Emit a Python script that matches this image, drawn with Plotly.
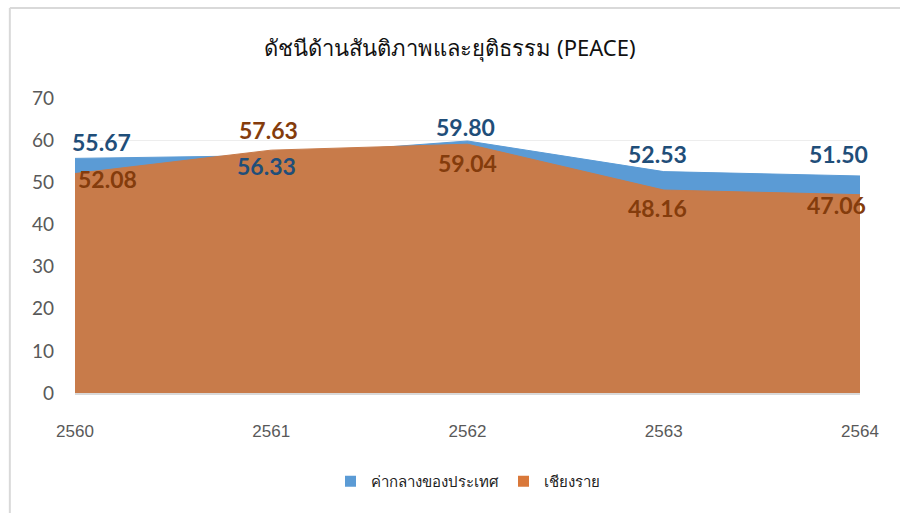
import plotly.graph_objects as go

# data
years = [2560, 2561, 2562, 2563, 2564]
national = [55.67, 56.33, 59.80, 52.53, 51.50]
chiangrai = [52.08, 57.63, 59.04, 48.16, 47.06]
series_names = ["ค่ากลางของประเทศ", "เชียงราย"]
title_text = "ดัชนีด้านสันติภาพและยุติธรรม (PEACE)"

# label offsets (px) so labels sit like the original chart
nat_shift = [(26, 16), (-5, -10), (-2, 14), (-6, 18), (-22, 22)]
cr_shift = [(32, -5), (-3, 20), (0, -19), (-6, -18), (-24, -10)]

blue_fill = "#5B9BD5"
orange_fill = "#C87B4A"
blue_text = "#1F4E79"
orange_text = "#843C0C"

fig = go.Figure()

# Area traces (blue behind, orange overlaps on top)
fig.add_trace(go.Scatter(x=years, y=national, mode="lines", fill="tozeroy",
                         line=dict(color=blue_fill, width=1),
                         fillcolor=blue_fill, showlegend=False, hoverinfo="skip"))
fig.add_trace(go.Scatter(x=years, y=chiangrai, mode="lines", fill="tozeroy",
                         line=dict(color=orange_fill, width=1),
                         fillcolor=orange_fill, showlegend=False, hoverinfo="skip"))

# Legend entries as squares
for name, col in zip(series_names, [blue_fill, "#D9783A"]):
    fig.add_trace(go.Scatter(x=[None], y=[None], mode="markers", name=name,
                             marker=dict(symbol="square", size=11, color=col)))

# Data labels
label_font = "Lato, 'Open Sans', sans-serif"
for vals, shifts, col in [(national, nat_shift, blue_text), (chiangrai, cr_shift, orange_text)]:
    for x, v, (dx, dy) in zip(years, vals, shifts):
        fig.add_annotation(x=x, y=v, text=f"<b>{v:.2f}</b>", showarrow=False,
                           xshift=dx, yshift=dy,
                           font=dict(size=23, color=col, family=label_font))

fig.update_layout(
    width=900, height=513,
    paper_bgcolor="white", plot_bgcolor="white",
    margin=dict(l=75, r=40, t=98, b=120),
    title=dict(text=title_text, x=0.5, xanchor="center", y=0.905, yanchor="middle",
               font=dict(size=22, color="#111111", family="Tahoma, 'Noto Sans', sans-serif")),
    font=dict(family="'Noto Sans', sans-serif"),
    legend=dict(orientation="h", x=0.5, xanchor="center", y=-0.3, yanchor="middle",
                font=dict(size=15, color="#222222"), itemwidth=30),
    xaxis=dict(range=[2560, 2564], tickmode="array", tickvals=years,
               ticktext=[str(y) for y in years], showgrid=False,
               showline=True, linecolor="#D9D9D9", linewidth=2,
               ticklabelstandoff=22,
               tickfont=dict(size=17, color="#595959", family="Liberation Sans, Arial")),
    yaxis=dict(range=[0, 70], dtick=10, showgrid=True, gridcolor="#EDEDED",
               zeroline=False, ticklabelstandoff=20,
               tickfont=dict(size=19, color="#595959", family="Lato, sans-serif")),
    shapes=[
        dict(type="line", xref="paper", yref="paper", x0=-0.083, x1=1.1,
             y0=1.305, y1=1.305, line=dict(color="#D9D9D9", width=2)),
        dict(type="line", xref="paper", yref="paper", x0=-0.083, x1=-0.083,
             y0=1.305, y1=-0.42, line=dict(color="#D9D9D9", width=2)),
    ],
)

fig.write_html("out.html", config={"displayModeBar": False},
               post_script="document.body.style.margin='0';")
